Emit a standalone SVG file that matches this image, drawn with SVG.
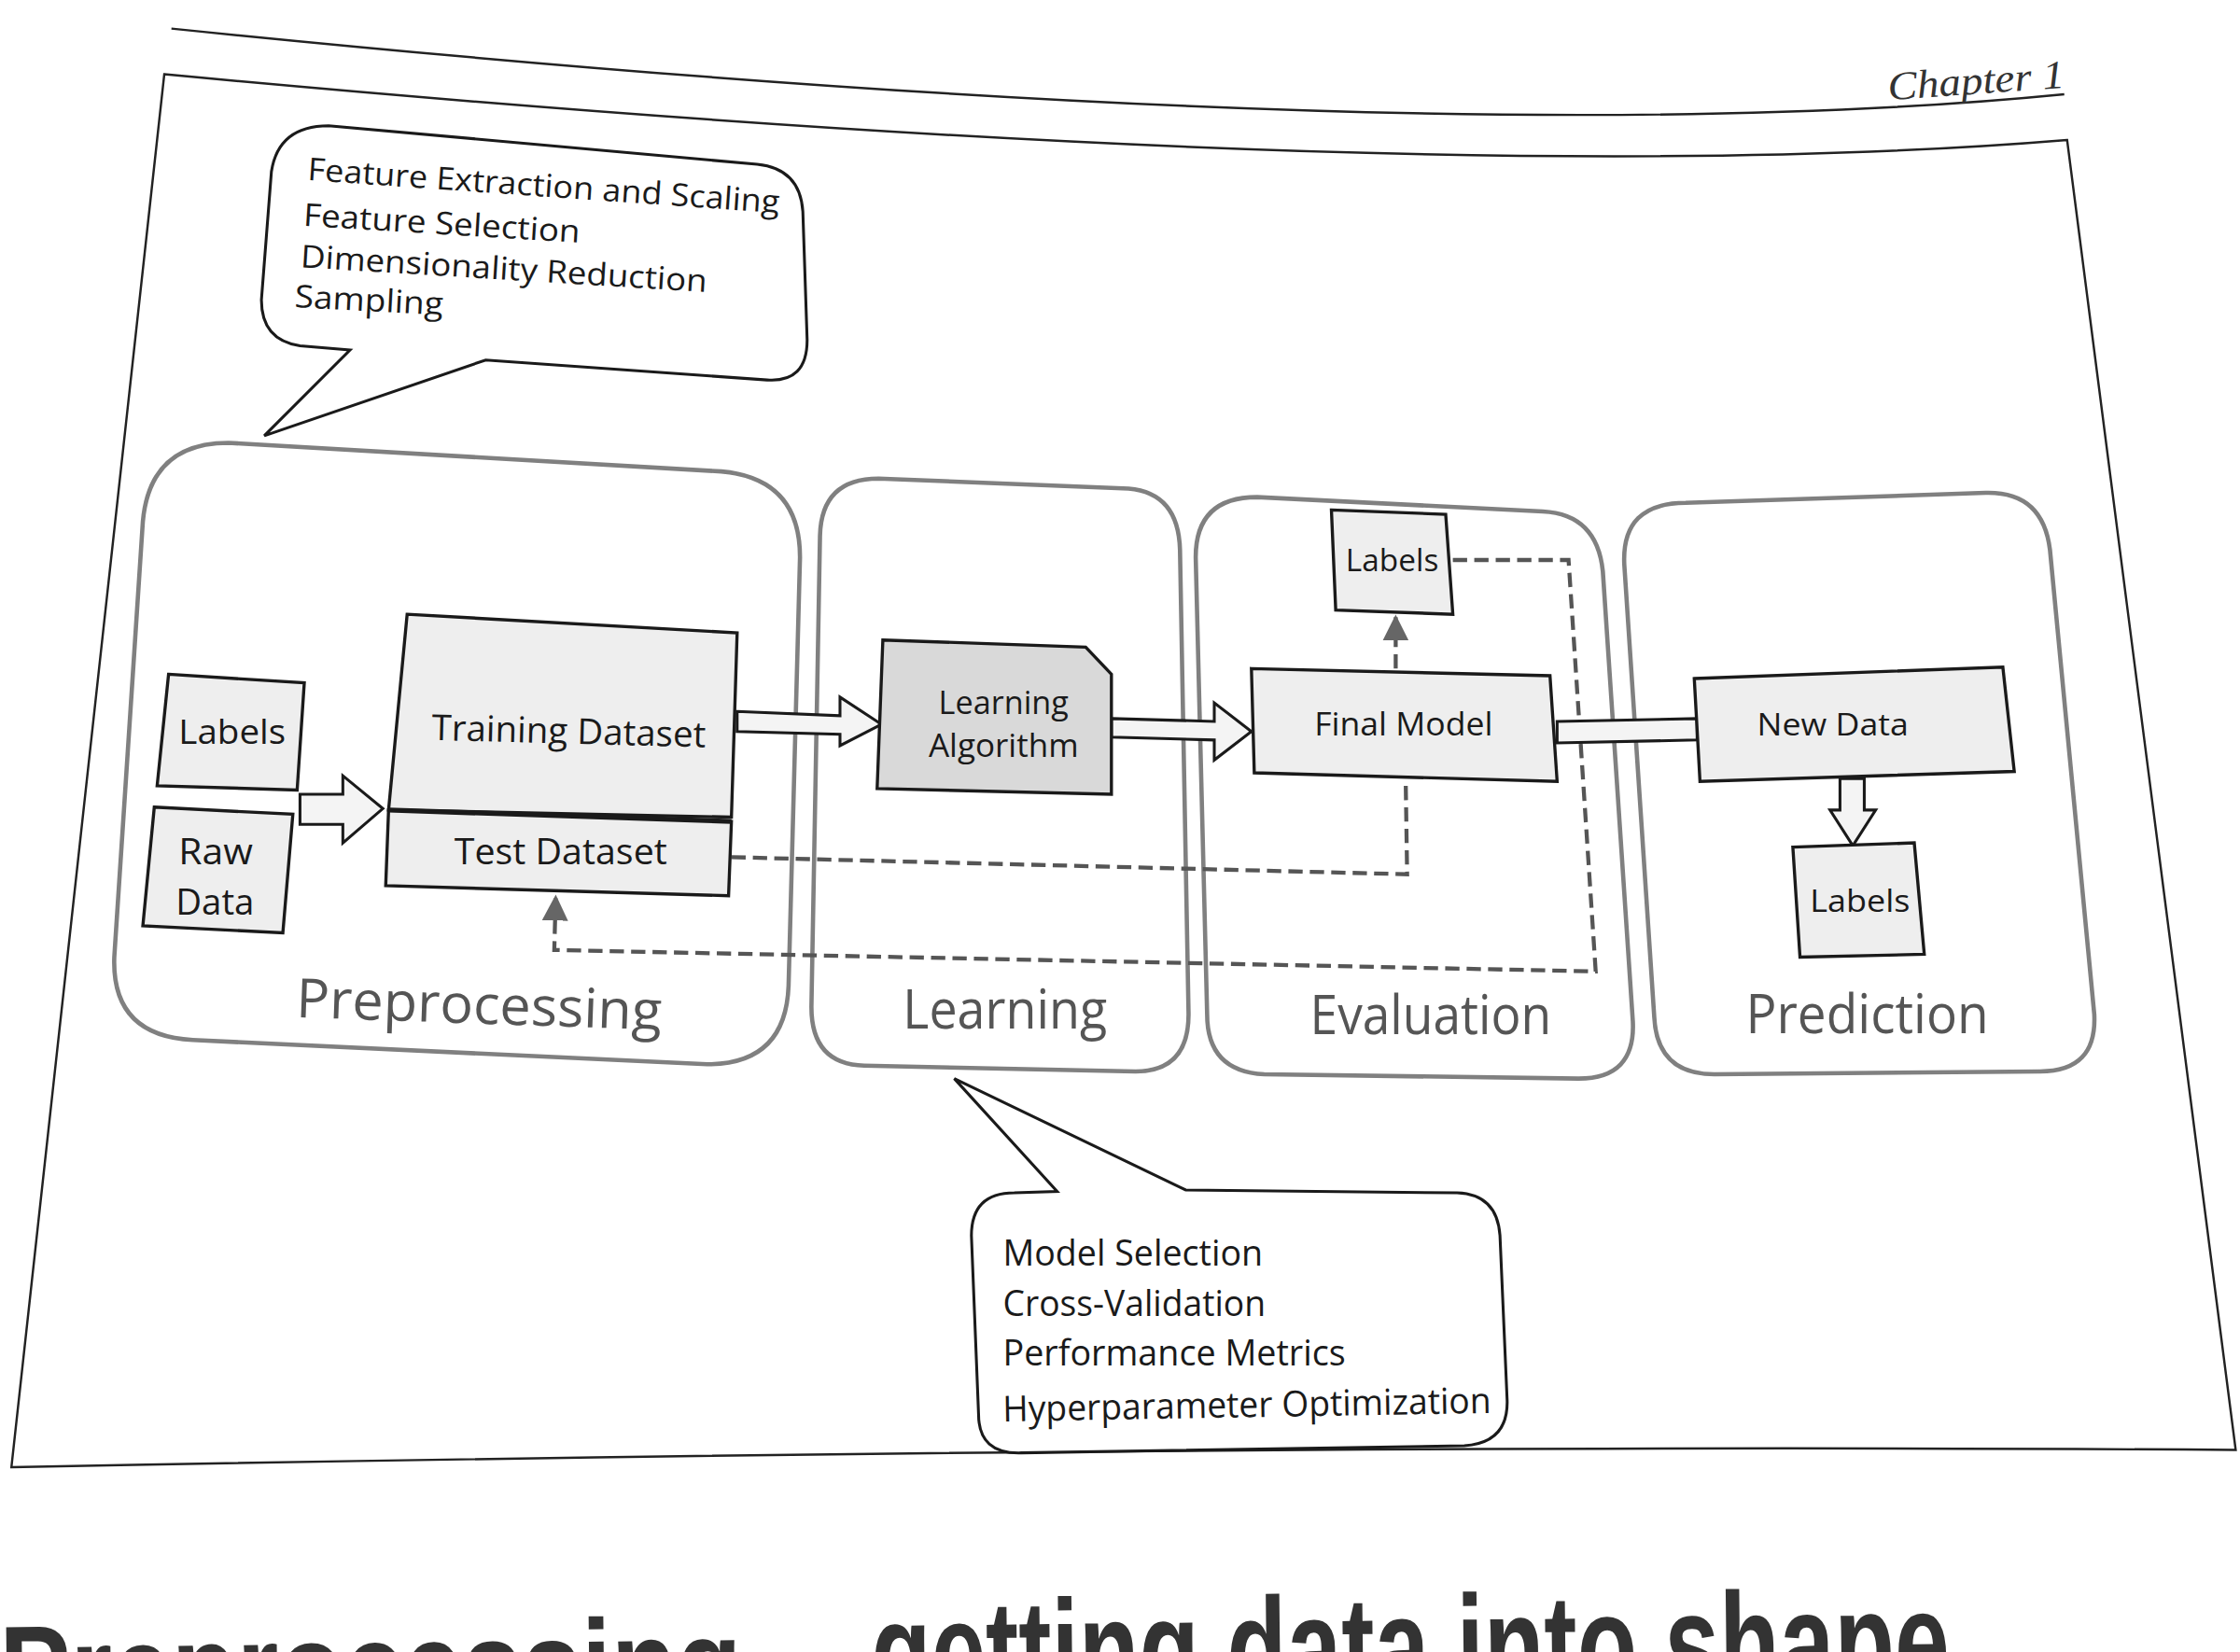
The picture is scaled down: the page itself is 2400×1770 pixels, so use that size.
<svg xmlns="http://www.w3.org/2000/svg" width="2400" height="1770" viewBox="0 0 2400 1770">
<defs>
<style>
.t{font-family:"Open Sans","Liberation Sans",sans-serif;fill:#1a1a1a;}
.box{fill:#eeeeee;stroke:#1a1a1a;stroke-width:2.2;}
.alg{fill:#d9d9d9;stroke:#1a1a1a;stroke-width:2.2;}
.cont{fill:none;stroke:#808080;stroke-width:3;}
.clab{font-family:"Open Sans","Liberation Sans",sans-serif;fill:#555;font-size:38px;}
.call{fill:#ffffff;stroke:#1a1a1a;stroke-width:2;}
.hollow{fill:#f4f4f4;stroke:#1a1a1a;stroke-width:2;}
.dash{fill:none;stroke:#555;stroke-width:2.8;stroke-dasharray:10 5;}
.frame{fill:none;stroke:#222;stroke-width:1.6;}
.head{font-family:"Liberation Sans",Arial,sans-serif;font-weight:bold;fill:#333;}
</style>
<marker id="ah" viewBox="0 0 10 10" refX="9" refY="5" markerWidth="6.5" markerHeight="6.5" orient="auto">
<path d="M0,0 L10,5 L0,10 Z" fill="#666"/>
</marker>
</defs>
<rect width="2400" height="1770" fill="#ffffff"/>
<g transform="scale(1.5306)">
<g id="page">
<path class="frame" d="M120,20 Q1000,110 1445,66"/>
<path class="frame" d="M115,52 Q1000,135 1447,98 L1565,1015 Q900,1010 8,1027 Z"/>
<text x="1322" y="70" transform="rotate(-4 1322 70)" font-family="Liberation Serif, serif" font-style="italic" font-size="28" fill="#333" textLength="124" lengthAdjust="spacingAndGlyphs">Chapter 1</text>
</g>

<g id="containers">
<g id="preprocessing">
<path class="cont" d="M160,310 L505,330 Q560,335 560,390 L552,690 Q550,745 495,745 L135,728 Q78,725 80,670 L100,365 Q105,310 160,310 Z"/>
<text class="clab" x="207" y="712" transform="rotate(2 207 712)" textLength="256" lengthAdjust="spacingAndGlyphs">Preprocessing</text>
</g>
<g id="learning">
<path class="cont" d="M615,335 L790,342 Q825,345 826,385 L832,710 Q832,750 795,750 L605,746 Q568,745 568,705 L574,375 Q575,335 615,335 Z"/>
<text class="clab" x="632" y="720" textLength="143" lengthAdjust="spacingAndGlyphs">Learning</text>
</g>
<g id="evaluation">
<path class="cont" d="M880,348 L1080,358 Q1118,360 1122,400 L1143,715 Q1145,755 1105,755 L885,752 Q845,750 845,710 L837,390 Q837,348 880,348 Z"/>
<text class="clab" x="917" y="724" textLength="169" lengthAdjust="spacingAndGlyphs">Evaluation</text>
</g>
<g id="prediction">
<path class="cont" d="M1180,352 L1390,345 Q1430,344 1435,385 L1466,710 Q1468,750 1428,750 L1200,752 Q1160,752 1158,712 L1137,395 Q1135,352 1180,352 Z"/>
<text class="clab" x="1222" y="723" textLength="170" lengthAdjust="spacingAndGlyphs">Prediction</text>
</g>
</g>

<g id="connectors">
<path class="dash" d="M512,600 L985,612 L984,547"/>
<path class="dash" d="M1017,392 L1098,392 L1117,680 L388,665 L389,628" marker-end="url(#ah)"/>
<path class="dash" d="M977,468 L977,432" marker-end="url(#ah)"/>
<polygon class="hollow" points="210,556 240,556 240,543 268,566 240,590 240,577 210,577"/>
<polygon class="hollow" points="516,498 588,501 588,488 617,507 588,522 588,514 516,512"/>
<polygon class="hollow" points="778,503 850,505 850,492 876,512 850,532 850,518 778,516"/>
<polygon class="hollow" points="1090,505 1188,503 1188,518 1090,520"/>
<polygon class="hollow" points="1288,545 1305,545 1305,567 1313,567 1297,592 1281,567 1288,567"/>
</g>

<g id="labels-left">
<polygon class="box" points="118,472 213,478 208,553 110,550"/>
<text class="t" x="125" y="521" font-size="24" textLength="75" lengthAdjust="spacingAndGlyphs">Labels</text>
</g>
<g id="raw-data">
<polygon class="box" points="108,565 205,570 198,653 100,648"/>
<text class="t" x="125" y="605" font-size="25" textLength="52" lengthAdjust="spacingAndGlyphs">Raw</text>
<text class="t" x="123" y="640" font-size="25" textLength="55" lengthAdjust="spacingAndGlyphs">Data</text>
</g>
<g id="training-dataset">
<polygon class="box" points="285,430 516,443 512,572 272,567"/>
<text class="t" x="302" y="518" font-size="25" transform="rotate(1.5 302 518)" textLength="192" lengthAdjust="spacingAndGlyphs">Training Dataset</text>
</g>
<g id="test-dataset">
<polygon class="box" points="272,567 512,575 510,627 270,620"/>
<line x1="272" y1="567" x2="512" y2="575" stroke="#1a1a1a" stroke-width="3.5"/>
<text class="t" x="318" y="605" font-size="25" textLength="149" lengthAdjust="spacingAndGlyphs">Test Dataset</text>
</g>
<g id="learning-algorithm">
<polygon class="alg" points="618,448 760,453 778,472 778,556 614,552"/>
<text class="t" x="657" y="500" font-size="23" textLength="91" lengthAdjust="spacingAndGlyphs">Learning</text>
<text class="t" x="650" y="530" font-size="23" textLength="105" lengthAdjust="spacingAndGlyphs">Algorithm</text>
</g>
<g id="final-model">
<polygon class="box" points="876,468 1085,473 1090,547 878,541"/>
<text class="t" x="920" y="515" font-size="23" textLength="125" lengthAdjust="spacingAndGlyphs">Final Model</text>
</g>
<g id="labels-eval">
<polygon class="box" points="932,357 1012,360 1017,430 935,427"/>
<text class="t" x="942" y="400" font-size="21" textLength="65" lengthAdjust="spacingAndGlyphs">Labels</text>
</g>
<g id="new-data">
<polygon class="box" points="1186,475 1402,467 1410,540 1190,547"/>
<text class="t" x="1230" y="515" font-size="22" textLength="106" lengthAdjust="spacingAndGlyphs">New Data</text>
</g>
<g id="labels-pred">
<polygon class="box" points="1255,593 1340,590 1347,668 1260,670"/>
<text class="t" x="1267" y="638" font-size="22" textLength="70" lengthAdjust="spacingAndGlyphs">Labels</text>
</g>

<g id="callout-preprocessing">
<path class="call" d="M230,88 L530,115 Q560,118 562,148 L565,238 Q565,268 537,266 L340,252 L185,305 L245,245 L210,242 Q183,238 183,210 L190,120 Q195,88 230,88 Z"/>
<text class="t" x="215" y="126" font-size="22" transform="rotate(4 215 126)" textLength="331" lengthAdjust="spacingAndGlyphs">Feature Extraction and Scaling</text>
<text class="t" x="212" y="158" font-size="22" transform="rotate(3.5 212 158)" textLength="194" lengthAdjust="spacingAndGlyphs">Feature Selection</text>
<text class="t" x="210" y="187" font-size="22" transform="rotate(3.5 210 187)" textLength="285" lengthAdjust="spacingAndGlyphs">Dimensionality Reduction</text>
<text class="t" x="206" y="215" font-size="22" transform="rotate(3 206 215)" textLength="104" lengthAdjust="spacingAndGlyphs">Sampling</text>
</g>

<g id="callout-learning">
<path class="call" d="M710,835 L740,834 L668,755 L830,833 L1020,835 Q1048,836 1050,865 L1055,980 Q1056,1010 1025,1012 L715,1017 Q685,1018 685,990 L680,865 Q680,835 710,835 Z"/>
<text class="t" x="702" y="886" font-size="25" textLength="182" lengthAdjust="spacingAndGlyphs">Model Selection</text>
<text class="t" x="702" y="921" font-size="25" textLength="184" lengthAdjust="spacingAndGlyphs">Cross-Validation</text>
<text class="t" x="702" y="956" font-size="25" textLength="240" lengthAdjust="spacingAndGlyphs">Performance Metrics</text>
<text class="t" x="702" y="995" font-size="25" transform="rotate(-1 702 995)" textLength="342" lengthAdjust="spacingAndGlyphs">Hyperparameter Optimization</text>
</g>

<g id="heading">
<text class="head" x="0" y="1201" font-size="90" transform="rotate(-0.6 0 1201)" textLength="582" lengthAdjust="spacingAndGlyphs">Preprocessing –</text>
<text class="head" x="610" y="1191" font-size="100" transform="rotate(-0.6 610 1191)" textLength="755" lengthAdjust="spacingAndGlyphs" fill="#444">getting data into shape</text>
</g>
</g>
</svg>
